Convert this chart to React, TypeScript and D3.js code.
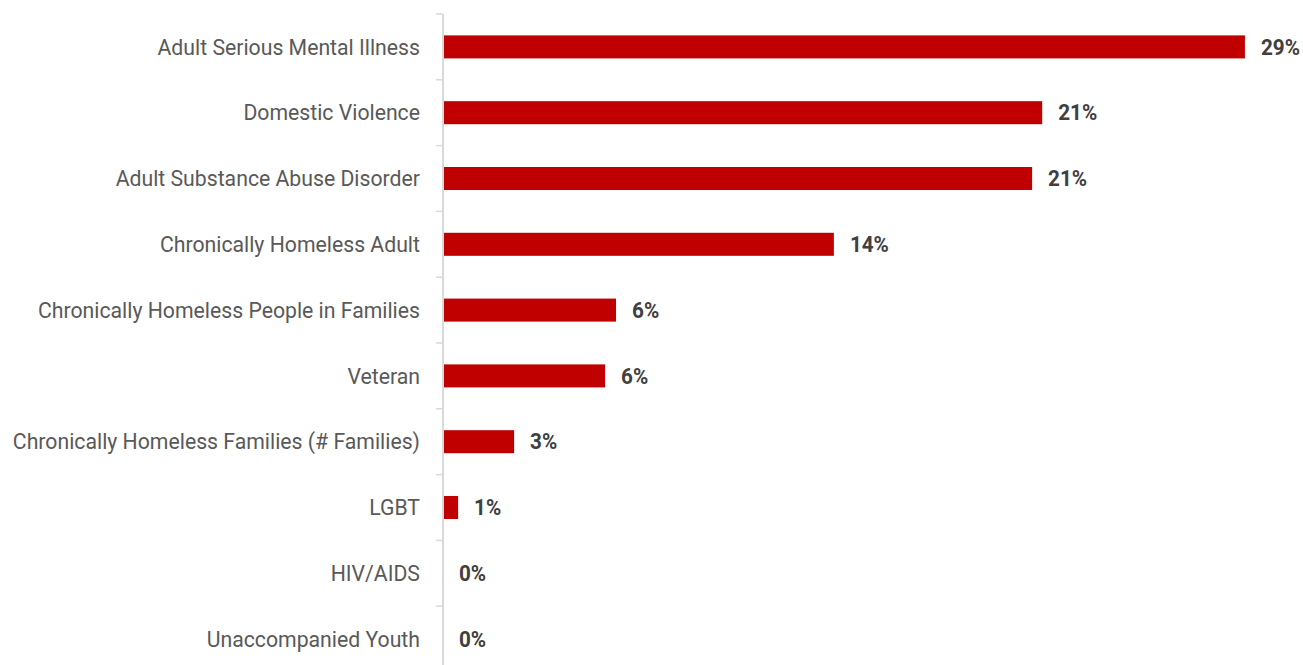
import React from "react";
import * as d3 from "d3";

const categories = [
  "Adult Serious Mental Illness",
  "Domestic Violence",
  "Adult Substance Abuse Disorder",
  "Chronically Homeless Adult",
  "Chronically Homeless People in Families",
  "Veteran",
  "Chronically Homeless Families (# Families)",
  "LGBT",
  "HIV/AIDS",
  "Unaccompanied Youth",
];
const values = [28.64, 21.4, 21.04, 13.96, 6.18, 5.79, 2.54, 0.54, 0, 0];
const valueLabels = ["29%", "21%", "21%", "14%", "6%", "6%", "3%", "1%", "0%", "0%"];

const W = 1303;
const H = 665;
const axisX = 443;
const top = 14;
const step = 65.8;
const SX_CAT = 0.965;
const SX_VAL = 0.94;
const FS = 22;

export default function App() {
  const x = d3.scaleLinear().domain([0, 30]).range([axisX, axisX + 840]);
  const y = d3
    .scaleBand<string>()
    .domain(categories)
    .range([top, top + step * categories.length])
    .paddingInner(0.65)
    .paddingOuter(0.325);
  const bounds = d3.range(categories.length + 1).map((i) => top + i * step);
  return (
    <svg
      width={W}
      height={H}
      style={{ position: "absolute", left: 0, top: 0, background: "#fff" }}
    >
      <line x1={axisX} x2={axisX} y1={top} y2={H + 20} stroke="#d9d9d9" strokeWidth={2} />
      {bounds.map((b, i) => (
        <line key={i} x1={axisX - 7} x2={axisX} y1={b} y2={b} stroke="#d9d9d9" strokeWidth={1.5} />
      ))}
      {categories.map((c, i) => {
        const yc = (y(c) as number) + y.bandwidth() / 2;
        return (
          <g key={c}>
            <rect
              x={x(0) + 1}
              y={y(c) as number}
              width={Math.max(0, x(values[i]) - x(0) - 1)}
              height={y.bandwidth()}
              fill="#c00000"
            />
            <text
              transform={`scale(${SX_CAT},1)`}
              x={(axisX - 23) / SX_CAT}
              y={yc}
              dy="0.35em"
              textAnchor="end"
              fontFamily="Roboto"
              fontSize={FS}
              fill="#595959"
            >
              {c}
            </text>
            <text
              transform={`scale(${SX_VAL},1)`}
              x={(x(values[i]) + 16) / SX_VAL}
              y={yc}
              dy="0.35em"
              fontFamily="Roboto"
              fontWeight="bold"
              fontSize={FS}
              fill="#404040"
            >
              {valueLabels[i]}
            </text>
          </g>
        );
      })}
    </svg>
  );
}
